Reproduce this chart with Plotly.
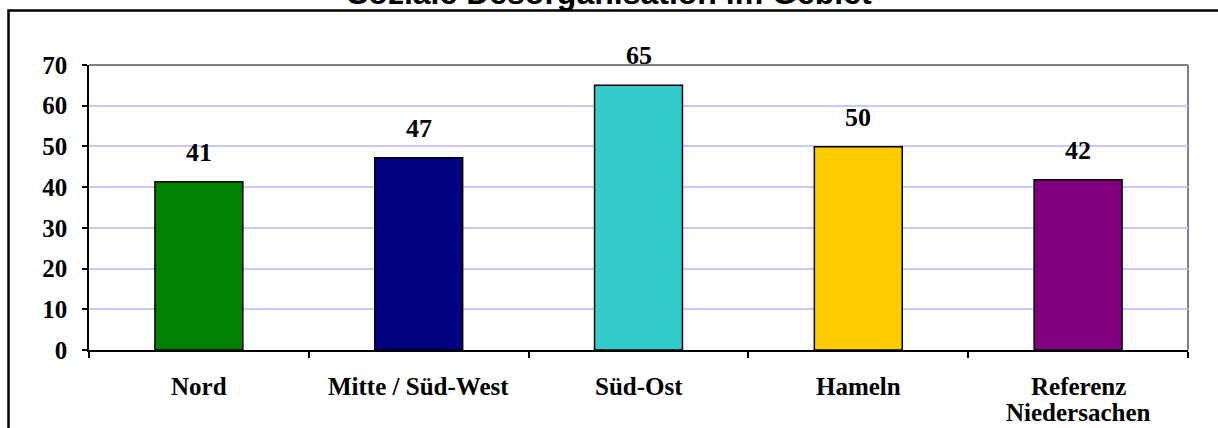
import plotly.graph_objects as go

categories = ["Nord", "Mitte / Süd-West", "Süd-Ost", "Hameln", "Referenz Niedersachen"]
category_lines = [["Nord"], ["Mitte / Süd-West"], ["Süd-Ost"], ["Hameln"], ["Referenz", "Niedersachen"]]
values = [41.3, 47.2, 65.0, 49.9, 41.8]
labels = ["41", "47", "65", "50", "42"]
colors = ["#008000", "#000080", "#33CCCC", "#FFCC00", "#800080"]
y_ticks = [0, 10, 20, 30, 40, 50, 60, 70]
title_text = "Soziale Desorganisation im Gebiet"

W, H = 1218, 428
L, R, T, B = 89, 30, 65, 78
pw, ph = W - L - R, H - T - B

def px_x(p):
    return (p - L) / pw

def px_y(p):
    return (H - B - p) / ph

serif = "Liberation Serif"

fig = go.Figure()
fig.add_trace(go.Bar(
    x=categories, y=values,
    marker=dict(color=colors, line=dict(color="black", width=1.5)),
    width=0.4, showlegend=False, hoverinfo="skip",
))

for c, v, t in zip(categories, values, labels):
    fig.add_annotation(x=c, y=v, text="<b>%s</b>" % t, showarrow=False,
                       xref="x", yref="y", yanchor="bottom", yshift=13,
                       font=dict(family=serif, size=26, color="black"))

# category labels (one annotation per line for tight line spacing)
for c, lines in zip(categories, category_lines):
    for k, line in enumerate(lines):
        fig.add_annotation(x=c, y=0, xref="x", yref="y", text="<b>%s</b>" % line,
                           showarrow=False, yanchor="top", yshift=-21 - 26 * k,
                           font=dict(family=serif, size=25, color="black"))

# title (partially above the visible area, as in the reference)
fig.add_annotation(x=px_x(609), xref="paper", y=px_y(13), yref="paper",
                   xanchor="center", yanchor="bottom", showarrow=False,
                   text="<b>%s</b>" % title_text,
                   font=dict(family="Liberation Sans", size=32, color="black"))

# outer chart frame
fig.add_shape(type="rect", xref="paper", yref="paper",
              x0=px_x(8.5), x1=px_x(1300), y0=px_y(500), y1=px_y(10.5),
              line=dict(color="black", width=2.5), fillcolor="rgba(0,0,0,0)", layer="above")
# plot area border (top/right gray)
fig.add_shape(type="line", xref="paper", yref="paper", x0=0, x1=1, y0=1, y1=1,
              line=dict(color="#808080", width=2), layer="below")
fig.add_shape(type="line", xref="paper", yref="paper", x0=1, x1=1, y0=0, y1=1,
              line=dict(color="#808080", width=2), layer="below")

fig.update_layout(
    width=W, height=H,
    margin=dict(l=L, r=R, t=T, b=B, autoexpand=False),
    paper_bgcolor="white", plot_bgcolor="white",
    bargap=0.6,
    xaxis=dict(
        type="category", tickson="boundaries", ticks="outside", ticklen=6,
        tickcolor="black", tickwidth=1.5, showline=True, linecolor="black", linewidth=1.5,
        showgrid=False, showticklabels=False, range=[-0.5, 4.5], automargin=False,
    ),
    yaxis=dict(
        range=[0, 70], ticks="outside", ticklen=5, tickcolor="black", tickwidth=1.5,
        showline=True, linecolor="black", linewidth=1.5, automargin=False,
        showgrid=True, gridcolor="#C8C8FF", gridwidth=1.5,
        tickfont=dict(family=serif, size=25, color="black"),
        ticklabelstandoff=10, zeroline=False,
        tickvals=y_ticks, ticktext=["<b>%d</b>" % v for v in y_ticks],
    ),
)

fig.write_html("out.html")
